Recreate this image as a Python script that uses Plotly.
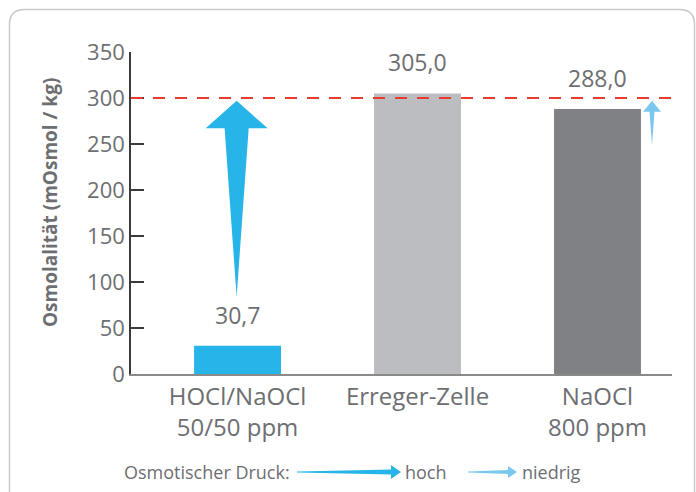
import plotly.graph_objects as go

# ---- data ----
categories = ["HOCl/NaOCl<br>50/50 ppm", "Erreger-Zelle", "NaOCl<br>800 ppm"]
osmolality = [30.7, 305.0, 288.0]
value_labels = ["30,7", "305,0", "288,0"]
bar_colors = ["#27b5e9", "#bcbdc1", "#808184"]
reference_value = 300
y_ticks = [0, 50, 100, 150, 200, 250, 300, 350]
y_title = "Osmolalität (mOsmol / kg)"
legend_label = "Osmotischer Druck:"
legend_high = "hoch"
legend_low = "niedrig"

TEXT = "#6d6e71"
FONT = "Open Sans"
W, H = 696, 492
L, R, T, B = 131, 24, 52, 118
PW, PH = W - L - R, H - T - B


def px(xp):
    return (xp - L) / PW


def py(yp):
    return (H - B - yp) / PH


xs = list(range(len(categories)))
fig = go.Figure()
fig.add_trace(go.Bar(x=xs, y=osmolality, marker_color=bar_colors, width=0.483,
                     marker_line_width=0, hoverinfo="skip"))


def tapered_arrow(cx, tip, head_base, tail, head_hw, shaft_hw, color):
    xsp = [cx, cx + head_hw, cx + shaft_hw, cx, cx - shaft_hw, cx - head_hw, cx]
    ysp = [tip, head_base, head_base, tail, head_base, head_base, tip]
    fig.add_trace(go.Scatter(x=xsp, y=ysp, fill="toself", fillcolor=color, mode="lines",
                             line=dict(width=0, color=color), hoverinfo="skip"))


# big arrow above first bar, small arrow beside third bar
tapered_arrow(xs[0] - 0.005, reference_value - 3, 267, 84, 0.172, 0.067, "#27b5e9")
tapered_arrow(xs[2] + 0.303, reference_value - 3, 285, 248, 0.05, 0.014, "#7cc7ef")

# reference line
fig.add_shape(type="line", xref="paper", x0=0, x1=1, yref="y", y0=reference_value, y1=reference_value,
              line=dict(color="#e63b2e", width=2, dash="12px,10px"), layer="above")

# value labels
for i, (v, t) in enumerate(zip(osmolality, value_labels)):
    fig.add_annotation(x=xs[i], y=v, text=t, showarrow=False, yshift=31, yanchor="middle",
                       font=dict(family=FONT, size=23, color=TEXT))

# y title
fig.add_annotation(xref="paper", yref="paper", x=px(50), y=py(203), text="<b>" + y_title + "</b>",
                   textangle=-90, showarrow=False, xanchor="center", yanchor="middle",
                   font=dict(family=FONT, size=19, color=TEXT))

# frame with rounded top-left/top-right corners
x0, x1, y0, y1 = px(9.5), px(694.5), py(9.5), py(520)
rx, ry = 15 / PW, 15 / PH
path = (f"M {x0},{y1} L {x0},{y0 - ry} Q {x0},{y0} {x0 + rx},{y0} "
        f"L {x1 - rx},{y0} Q {x1},{y0} {x1},{y0 - ry} L {x1},{y1}")
fig.add_shape(type="path", xref="paper", yref="paper", path=path,
              line=dict(color="#c9c9c9", width=1.5))

# legend row
ly = 472
fig.add_annotation(xref="paper", yref="paper", x=px(122), y=py(ly), text=legend_label, showarrow=False,
                   xanchor="left", yanchor="middle", font=dict(family=FONT, size=18, color=TEXT))


def legend_arrow(xa, xb, head_len, head_hw, shaft_hw_tail, shaft_hw_head, color):
    xh = xb - head_len
    p = (f"M {px(xa)},{py(ly - shaft_hw_tail)} L {px(xh)},{py(ly - shaft_hw_head)} "
         f"L {px(xh)},{py(ly - head_hw)} L {px(xb)},{py(ly)} L {px(xh)},{py(ly + head_hw)} "
         f"L {px(xh)},{py(ly + shaft_hw_head)} L {px(xa)},{py(ly + shaft_hw_tail)} Z")
    fig.add_shape(type="path", xref="paper", yref="paper", path=p, fillcolor=color,
                  line=dict(width=0))


legend_arrow(297, 401, 10, 7, 0.4, 2.5, "#27b5e9")
legend_arrow(468, 517, 9, 6, 0.4, 2.0, "#7cc7ef")
fig.add_annotation(xref="paper", yref="paper", x=px(403), y=py(ly), text=legend_high, showarrow=False,
                   xanchor="left", yanchor="middle", font=dict(family=FONT, size=18, color=TEXT))
fig.add_annotation(xref="paper", yref="paper", x=px(520), y=py(ly), text=legend_low, showarrow=False,
                   xanchor="left", yanchor="middle", font=dict(family=FONT, size=18, color=TEXT))

fig.update_layout(
    width=W, height=H, margin=dict(l=L, r=R, t=T, b=B, pad=0),
    paper_bgcolor="white", plot_bgcolor="white", showlegend=False,
    font=dict(family=FONT, color=TEXT),
    xaxis=dict(range=[-0.592, 2.414], tickvals=xs, ticktext=categories, showgrid=False,
               zeroline=False, showline=True, linecolor="#8a8a8a", linewidth=2, ticks="",
               tickfont=dict(family=FONT, size=24, color=TEXT), fixedrange=True),
    yaxis=dict(range=[0, 350], tickvals=y_ticks, showgrid=False, zeroline=False, showline=True,
               linecolor="#3a3a3a", linewidth=1.5, ticks="inside", ticklen=13, tickcolor="#3a3a3a",
               tickwidth=1.5, tickfont=dict(family=FONT, size=22, color=TEXT), fixedrange=True),
)

fig.write_html("out.html", config={"displayModeBar": False},
               post_script="document.body.style.margin='0';document.body.style.overflow='hidden';")
